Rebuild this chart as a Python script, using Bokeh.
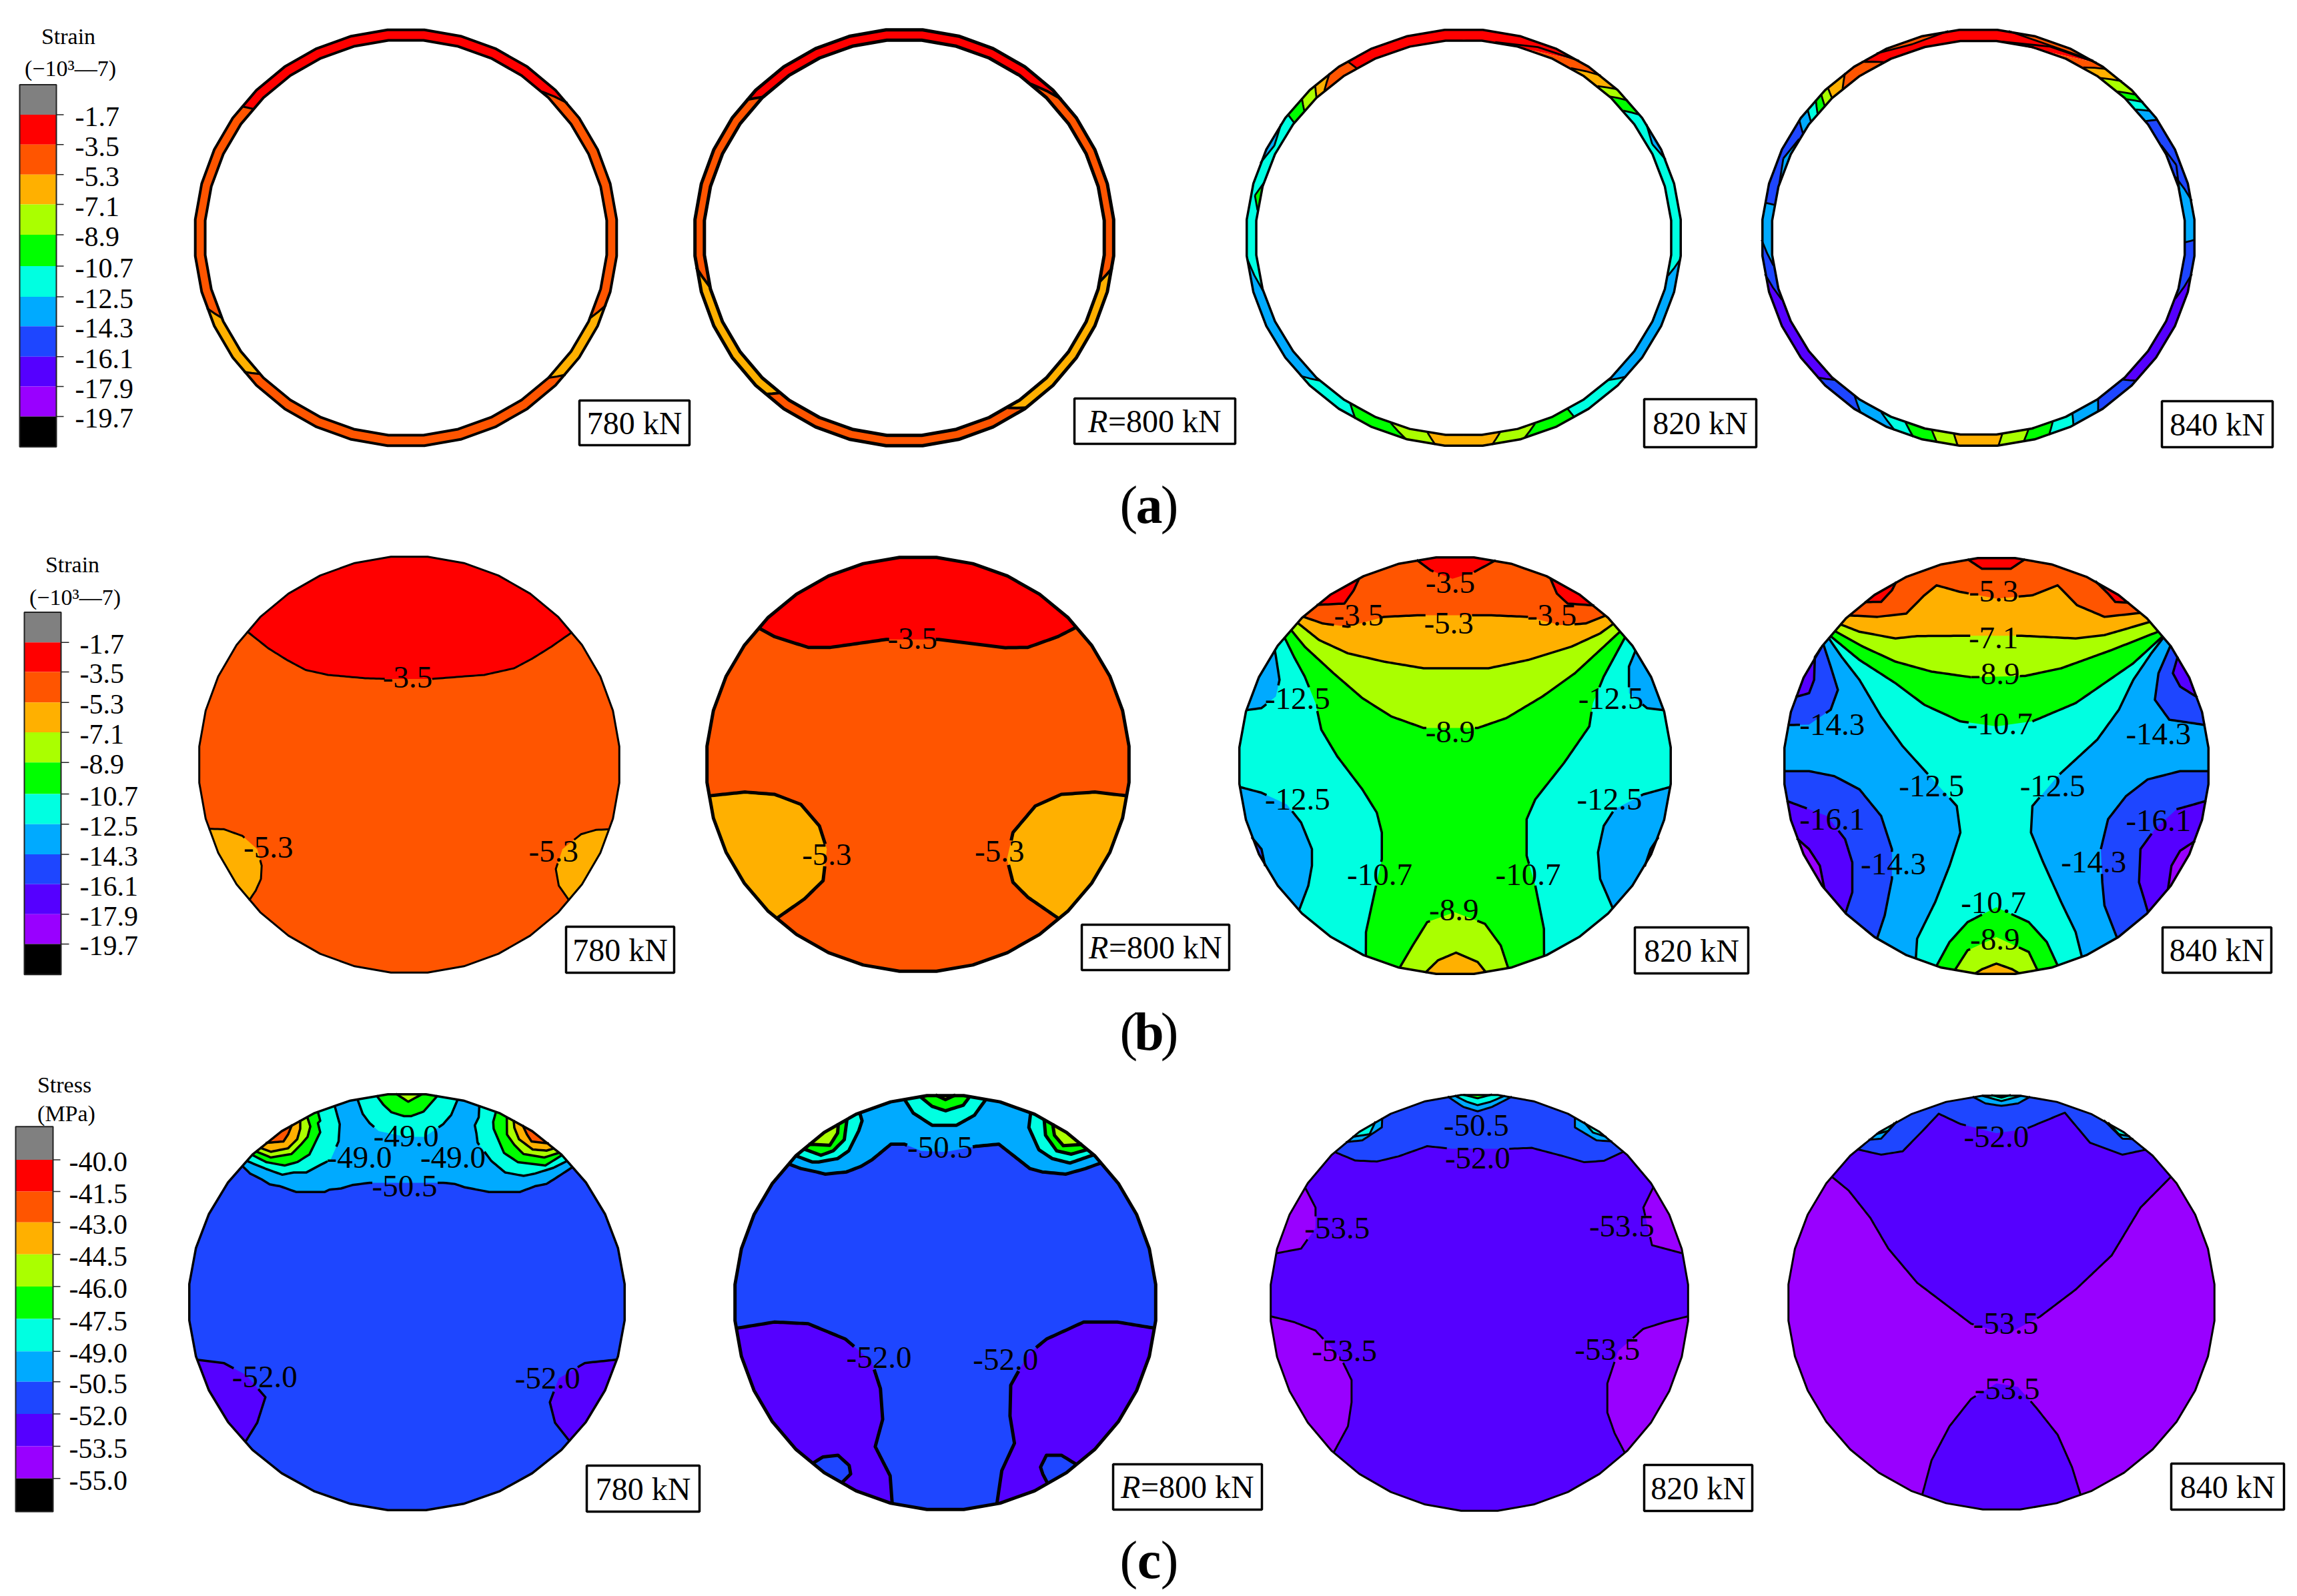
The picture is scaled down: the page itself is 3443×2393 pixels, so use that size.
import math
from bokeh.plotting import figure
from bokeh.models import Range1d
from bokeh.core.properties import value
from bokeh.embed import file_html
from bokeh.resources import INLINE

# ---------- shared colour scale ----------
scale_colors = ["#808080", "#ff0000", "#ff5500", "#ffb000", "#aaff00", "#00ff00",
                "#00ffe1", "#00aaff", "#1e46ff", "#5500ff", "#9900ff", "#000000"]
strain_ticks = ["-1.7", "-3.5", "-5.3", "-7.1", "-8.9", "-10.7", "-12.5", "-14.3", "-16.1", "-17.9", "-19.7"]
stress_ticks = ["-40.0", "-41.5", "-43.0", "-44.5", "-46.0", "-47.5", "-49.0", "-50.5", "-52.0", "-53.5", "-55.0"]

# ---------- (a) ring strain bands: colour index and the clockwise angle (degrees from top)
# at which each band ends, on the outer and on the inner edge of the ring ----------
ring780_colors = [1, 2, 3, 2, 3, 2]
ring780_outer = [49.8, 108.8, 131, 230, 250.3, 309]
ring780_inner = [42.4, 113.9, 135, 226.6, 246.2, 310.6]
ring800_colors = [1, 2, 3, 2, 3, 2]
ring800_outer = [48.4, 98.3, 144.5, 221.5, 261.8, 311.4]
ring800_inner = [39.1, 102.7, 149, 218.5, 255.7, 315.2]
ring820_colors = [1, 2, 3, 4, 5, 6, 7, 6, 5, 4, 3, 4, 5, 6, 7, 6, 5, 4, 3, 2]
ring820_outer = [32, 39, 44.6, 48.9, 53.9, 95.9, 131.7, 149.4, 163.9, 172.5, 187.5, 195.4, 209.8, 228.6, 264.3, 306.2, 312, 317, 322, 327.7]
ring820_inner = [8.7, 31, 40, 44.4, 50, 101, 136, 150, 160, 170, 190, 200.5, 213, 223.8, 254.4, 305.5, 310, 315, 318, 329]
ring840_colors = [1, 2, 3, 4, 5, 6, 7, 8, 7, 8, 9, 8, 7, 6, 5, 4, 3, 4, 5, 6, 7, 8, 9, 8, 7, 8, 7, 6, 5, 4, 3, 2]
ring840_outer = [33, 36, 41.4, 46.8, 49.5, 52.6, 55.6, 79.8, 90.5, 100, 133.2, 146.5, 154, 161, 168, 174.7, 185.5, 191, 197.5, 202.7, 212.9, 228, 260, 269.4, 279.7, 304.3, 308, 311.4, 313.5, 316, 322, 327.4]
ring840_inner = [6.5, 30.4, 36, 42.2, 45.4, 49.5, 53.8, 72, 91.3, 108, 135.9, 144.7, 153, 159, 166, 173.4, 186.8, 193, 200.6, 208, 216.7, 224, 251.7, 261.9, 279.6, 302, 306, 309, 312, 315, 319, 332.8]
# thin wedges: colour, from angle, to angle, edge (1 outer, 0 inner), tip
ring820_wedges = [(7, 57, 68, 1, 0.45), (7, 291, 303, 1, 0.45), (5, 278, 286, 0, 0.55)]
ring840_wedges = [(2, 332, 352, 1, 0.55), (2, 8, 32, 1, 0.6), (8, 62, 76, 0, 0.5), (7, 286, 300, 0, 0.5)]

# ---------- contour regions in each crop's own pixel units.
# Each region: colour index, boundary contours (region on the left of travel; consecutive
# contours are joined along the disc's edge) ----------
b780_base = 2
b780_regions = [
    (1, [[(332, 295), (360, 345), (385, 380), (410, 410), (440, 425), (490, 435), (520, 437), (580, 437), (620, 430), (650, 425), (690, 405), (715, 375), (740, 340), (767, 298)]]),
    (3, [[(334, 1105), (343, 1075), (350, 1040), (351, 1000), (345, 950), (325, 910), (300, 890), (278, 890)]]),
    (3, [[(818, 890), (800, 892), (780, 905), (755, 950), (746, 1010), (750, 1060), (764, 1105)]]),
]
b780_labels = [("-3.5", 547, 433), ("-5.3", 360, 945), ("-5.3", 743, 957)]

b800_base = 2
b800_regions = [
    (1, [[(1018, 283), (1040, 310), (1085, 342), (1115, 342), (1190, 318), (1260, 318), (1350, 343), (1380, 342), (1420, 310), (1445, 282)]]),
    (3, [[(1042, 1160), (1080, 1100), (1105, 1045), (1110, 950), (1100, 880), (1075, 815), (1040, 785), (1000, 778), (950, 790)]]),
    (3, [[(1515, 790), (1470, 778), (1425, 785), (1390, 820), (1360, 900), (1352, 980), (1360, 1050), (1380, 1095), (1422, 1160)]]),
]
b800_labels = [("-3.5", 1225, 315), ("-5.3", 1110, 967), ("-5.3", 1342, 957)]

b820_base = 6
b820_regions = [
    (7, [[(107, 530), (130, 525), (150, 490), (155, 440), (150, 370), (145, 345)]]),
    (7, [[(650, 350), (640, 400), (640, 480), (665, 525), (690, 530)]]),
    (7, [[(182, 1135), (195, 1060), (200, 1000), (200, 950), (185, 870), (165, 815), (130, 780), (98, 763)]]),
    (7, [[(699, 763), (660, 785), (620, 830), (605, 880), (597, 960), (600, 1040), (610, 1090), (618, 1130)]]),
    (8, [[(136, 1000), (130, 950), (115, 915)]]),
    (8, [[(682, 915), (670, 950), (660, 1000)]]),
    (5, [[(158, 305), (175, 370), (190, 430), (205, 510), (213, 590), (235, 670), (270, 770), (290, 840), (297, 900), (297, 980), (285, 1100), (275, 1200), (275, 1272)],
         [(522, 1272), (522, 1190), (510, 1060), (498, 970), (498, 860), (510, 800), (550, 690), (585, 580), (590, 510), (605, 430), (625, 350), (638, 305)]]),
    (4, [[(166, 280), (190, 340), (230, 420), (270, 495), (310, 550), (355, 585), (430, 585), (470, 555), (520, 490), (565, 420), (600, 350), (630, 290)]]),
    (3, [[(180, 268), (210, 320), (250, 360), (300, 385), (355, 405), (445, 405), (500, 380), (560, 340), (600, 300), (620, 268)]]),
    (2, [[(188, 250), (215, 270), (250, 280), (300, 250), (350, 245), (445, 245), (500, 250), (545, 275), (580, 270), (607, 248)]]),
    (1, [[(345, 75), (365, 110), (395, 135), (425, 115), (455, 80)]]),
    (1, [[(207, 215), (245, 210), (258, 170), (265, 130)]]),
    (1, [[(530, 135), (540, 180), (555, 210), (592, 215)]]),
    (4, [[(472, 1305), (462, 1240), (440, 1175), (398, 1140), (360, 1170), (340, 1240), (322, 1305)]]),
    (3, [[(442, 1325), (430, 1290), (400, 1262), (375, 1285), (357, 1325)]]),
]
b820_labels = [("-3.5", 392, 147), ("-3.5", 265, 245), ("-5.3", 390, 270), ("-3.5", 533, 245),
               ("-12.5", 180, 497), ("-12.5", 615, 497), ("-8.9", 392, 597), ("-12.5", 180, 800),
               ("-12.5", 613, 800), ("-10.7", 294, 1027), ("-10.7", 500, 1027), ("-8.9", 397, 1133)]

b840_base = 6
b840_regions = [
    (7, [[(1035, 1298), (1040, 1220), (1065, 1110), (1085, 1000), (1100, 900), (1095, 820), (1045, 700), (1020, 640), (990, 550), (960, 440), (935, 370), (915, 310)]]),
    (7, [[(1383, 310), (1365, 360), (1340, 440), (1320, 530), (1290, 620), (1255, 690), (1235, 730), (1200, 820), (1198, 900), (1215, 990), (1240, 1110), (1260, 1200), (1268, 1272)]]),
    (8, [[(858, 575), (890, 575), (920, 530), (930, 470), (920, 400), (908, 330)]]),
    (8, [[(1393, 335), (1375, 420), (1370, 500), (1390, 560), (1442, 575)]]),
    (8, [[(985, 1218), (995, 1150), (1005, 1040), (1005, 950), (990, 850), (960, 770), (925, 730), (890, 715), (855, 715)]]),
    (8, [[(1446, 715), (1405, 715), (1360, 740), (1330, 790), (1305, 860), (1295, 950), (1297, 1050), (1300, 1120), (1315, 1210)]]),
    (9, [[(872, 492), (890, 480), (897, 440), (897, 370), (905, 340)]]),
    (9, [[(1403, 368), (1395, 420), (1405, 460), (1430, 492)]]),
    (9, [[(942, 1140), (950, 1080), (950, 990), (940, 920), (915, 850), (858, 805)]]),
    (9, [[(1442, 805), (1400, 830), (1370, 890), (1350, 950), (1348, 1050), (1355, 1100), (1360, 1140)]]),
    (10, [[(908, 1075), (905, 1000), (890, 950), (872, 918)]]),
    (10, [[(1425, 925), (1405, 955), (1393, 1000), (1390, 1075)]]),
    (5, [[(918, 305), (960, 380), (1010, 450), (1050, 515), (1100, 565), (1150, 580), (1200, 565), (1260, 510), (1300, 450), (1340, 390), (1383, 305)]]),
    (4, [[(924, 290), (965, 340), (1010, 385), (1060, 415), (1115, 432), (1190, 428), (1240, 405), (1310, 350), (1375, 295)]]),
    (3, [[(932, 270), (960, 295), (1010, 315), (1040, 308), (1110, 307), (1185, 307), (1260, 315), (1300, 305), (1340, 280), (1367, 258)]]),
    (2, [[(943, 240), (985, 250), (1025, 240), (1050, 185), (1067, 155), (1100, 175), (1150, 195), (1200, 185), (1235, 155), (1262, 215), (1300, 250), (1350, 240)]]),
    (1, [[(1110, 78), (1130, 105), (1170, 105), (1190, 75)]]),
    (1, [[(967, 205), (990, 205), (1005, 170), (1010, 140)]]),
    (1, [[(1288, 140), (1305, 180), (1315, 205), (1335, 205)]]),
    (5, [[(1235, 1300), (1220, 1230), (1195, 1170), (1150, 1125), (1110, 1170), (1085, 1230), (1067, 1300)]]),
    (4, [[(1207, 1312), (1195, 1260), (1150, 1215), (1110, 1255), (1092, 1315)]]),
    (3, [[(1182, 1325), (1172, 1312), (1150, 1295), (1130, 1312), (1120, 1325)]]),
]
b840_labels = [("-5.3", 1146, 172), ("-7.1", 1146, 313), ("-8.9", 1148, 422), ("-10.7", 1155, 572),
               ("-14.3", 922, 575), ("-14.3", 1375, 602), ("-12.5", 1060, 760), ("-12.5", 1228, 760),
               ("-16.1", 922, 860), ("-16.1", 1375, 865), ("-14.3", 1007, 995), ("-14.3", 1285, 988),
               ("-10.7", 1146, 1112), ("-8.9", 1148, 1222)]

c780_base = 8
c780_lower = [
    (9, [[(330, 1115), (345, 1060), (356, 985), (330, 920), (300, 885), (263, 876)]]),
    (9, [[(830, 876), (785, 885), (750, 930), (738, 1000), (745, 1060), (765, 1115)]]),
]
c780_upper = [
    (7, [[(70, 345), (100, 375), (150, 400), (185, 422), (230, 430), (300, 455), (425, 455), (445, 445), (495, 440), (545, 425), (620, 415), (940, 415), (990, 420), (1035, 435), (1140, 455), (1275, 455), (1340, 430), (1390, 420), (1430, 395), (1500, 350)]]),
    (6, [[(90, 325), (170, 355), (240, 380), (290, 370), (345, 370), (410, 335), (450, 315), (485, 235), (490, 160), (470, 85)]]),
    (6, [[(1095, 85), (1095, 130), (1078, 165), (1085, 200), (1090, 240), (1150, 320), (1210, 370), (1290, 385), (1340, 375), (1420, 350), (1475, 325)]]),
    (6, [[(568, 55), (590, 115), (620, 155), (660, 190), (780, 215), (860, 215), (940, 160), (975, 120), (1003, 55)]]),
    (5, [[(110, 295), (170, 325), (250, 340), (305, 325), (358, 292), (405, 195), (395, 155), (405, 145), (397, 110)]]),
    (5, [[(1168, 110), (1158, 150), (1160, 180), (1205, 285), (1265, 325), (1385, 340), (1455, 297)]]),
    (5, [[(650, 35), (680, 75), (715, 108), (770, 125), (800, 125), (855, 105), (915, 45)]]),
    (4, [[(130, 283), (190, 305), (280, 290), (320, 250), (350, 215), (362, 170), (347, 125)]]),
    (4, [[(1218, 125), (1218, 205), (1250, 250), (1290, 290), (1380, 305), (1440, 290)]]),
    (4, [[(735, 32), (788, 62), (850, 32)]]),
    (3, [[(150, 270), (190, 280), (265, 265), (305, 225), (318, 180), (320, 145)]]),
    (3, [[(1245, 145), (1250, 175), (1270, 225), (1330, 270), (1390, 275), (1425, 265)]]),
    (2, [[(175, 250), (245, 235), (265, 205), (285, 165)]]),
    (2, [[(1285, 165), (1305, 205), (1325, 235), (1395, 250)]]),
]
c780_labels = [("-49.0", 545, 220), ("-49.0", 482, 283), ("-49.0", 608, 283), ("-50.5", 543, 368),
               ("-52.0", 355, 925), ("-52.0", 735, 930)]

c800_base = 8
c800_lower = [
    (9, [[(1198, 1295), (1195, 1215), (1175, 1130), (1185, 1050), (1182, 960), (1170, 880), (1135, 815), (1085, 770), (1040, 765), (990, 783)]]),
    (9, [[(1550, 783), (1500, 765), (1455, 765), (1405, 815), (1380, 860), (1357, 950), (1356, 1040), (1362, 1120), (1345, 1200), (1338, 1295)]]),
    (8, [[(1130, 1235), (1142, 1210), (1140, 1185), (1125, 1155), (1105, 1160), (1090, 1180)]]),
    (8, [[(1445, 1180), (1425, 1155), (1405, 1155), (1397, 1190), (1400, 1210), (1405, 1232)]]),
]
c800_upper = [
    (7, [[(5, 345), (60, 365), (130, 380), (170, 390), (265, 380), (330, 355), (380, 325), (465, 255), (525, 255), (600, 285), (710, 290), (845, 265), (950, 255), (1090, 365), (1145, 380), (1250, 390), (1340, 365), (1410, 340)]]),
    (6, [[(35, 305), (110, 335), (140, 335), (225, 320), (275, 285), (320, 195), (335, 150), (325, 115)]]),
    (6, [[(1090, 120), (1085, 180), (1130, 280), (1190, 320), (1270, 340), (1375, 305)]]),
    (6, [[(525, 55), (565, 115), (650, 170), (760, 170), (840, 125), (893, 55)]]),
    (5, [[(75, 280), (150, 305), (205, 285), (255, 235), (270, 145)]]),
    (5, [[(1150, 148), (1160, 215), (1210, 285), (1275, 300), (1345, 285)]]),
    (5, [[(595, 42), (650, 85), (710, 105), (790, 80), (820, 42)]]),
    (4, [[(100, 262), (190, 260), (225, 205), (230, 165)]]),
    (4, [[(1190, 165), (1200, 215), (1240, 262), (1320, 262)]]),
    (4, [[(665, 38), (710, 55), (755, 38)]]),
]
c800_labels = [("-50.5", 1262, 253), ("-52.0", 1180, 870), ("-52.0", 1350, 875)]

c820_base = 9
c820_regions = [
    (10, [[(148, 563), (185, 550), (205, 490), (205, 430), (190, 370)]]),
    (10, [[(672, 372), (660, 430), (672, 540), (717, 563)]]),
    (10, [[(229, 1150), (250, 1070), (255, 1000), (255, 935), (240, 870), (205, 790), (175, 765), (142, 748)]]),
    (10, [[(723, 748), (690, 765), (660, 785), (625, 850), (610, 945), (610, 1030), (620, 1090), (635, 1150)]]),
    (8, [[(232, 268), (260, 292), (290, 295), (320, 280), (360, 250), (395, 258), (470, 258), (505, 255), (550, 280), (578, 297), (605, 293), (632, 268)]]),
    (7, [[(245, 233), (270, 233), (297, 195), (297, 165)]]),
    (7, [[(565, 165), (565, 195), (595, 233), (618, 233)]]),
    (7, [[(388, 100), (410, 135), (430, 148), (450, 135), (478, 100)]]),
    (6, [[(257, 225), (280, 215), (290, 185)]]),
    (6, [[(577, 180), (590, 210), (608, 225)]]),
    (6, [[(398, 100), (415, 120), (430, 130), (448, 120), (468, 100)]]),
    (5, [[(410, 98), (430, 110), (450, 98)]]),
]
c820_labels = [("-50.5", 428, 190), ("-52.0", 430, 285), ("-53.5", 235, 490), ("-53.5", 630, 485),
               ("-53.5", 245, 850), ("-53.5", 610, 845)]

c840_base = 10
c840_regions = [
    (9, [[(920, 337), (945, 380), (975, 460), (1000, 550), (1040, 650), (1090, 730), (1115, 770), (1165, 800), (1210, 750), (1260, 670), (1310, 570), (1350, 430), (1392, 340)]]),
    (9, [[(1267, 1272), (1255, 1190), (1235, 1095), (1205, 1015), (1180, 955), (1150, 945), (1115, 990), (1085, 1070), (1060, 1170), (1047, 1272)]]),
    (8, [[(958, 262), (990, 275), (1020, 265), (1050, 200), (1070, 155), (1100, 185), (1150, 212), (1190, 200), (1245, 152), (1280, 240), (1325, 275), (1358, 260)]]),
    (7, [[(972, 230), (990, 228), (1013, 180)]]),
    (7, [[(1298, 178), (1325, 228), (1340, 230)]]),
    (7, [[(1117, 105), (1135, 125), (1157, 132), (1180, 125), (1197, 105)]]),
    (6, [[(985, 220), (1000, 205), (1010, 185)]]),
    (6, [[(1303, 188), (1320, 215), (1335, 222)]]),
    (6, [[(1130, 102), (1157, 118), (1185, 102)]]),
    (5, [[(1143, 102), (1157, 108), (1170, 102)]]),
]
c840_labels = [("-52.0", 1150, 222), ("-53.5", 1163, 770), ("-53.5", 1165, 960)]

panel_titles = ["780 kN", "=800 kN", "820 kN", "840 kN"]
subfigure_labels = ["(a)", "(b)", "(c)"]

# ---------- layout (reference pixels) ----------
W, H = 3443, 2393
VIEW_B_L = (0, 800, 0.896, 2.01)
VIEW_B_R = (1750, 800, 0.926, 2.01)
VIEW_C_L = (0, 1590, 0.896, 1.953)
VIEW_C_R = (1750, 1590, 0.926, 1.953)
VIEW_C1 = (340, 1630, 2.904, 2.904)
VIEW_C2 = (1180, 1630, 3.0, 3.0)

TNR = value("Liberation Serif")
p = figure(width=W, height=H, x_range=Range1d(0, W), y_range=Range1d(H, 0),
           output_backend="svg", toolbar_location=None, min_border=0,
           x_axis_type=None, y_axis_type=None, outline_line_color=None)
p.grid.visible = False


def to_px(view, pt):
    return view[0] + pt[0] / view[2], view[1] + pt[1] / view[3]


class Disc:
    def __init__(self, x0, x1, y0, y1):
        self.cx, self.cy = (x0 + x1) / 2, (y0 + y1) / 2
        self.rx, self.ry = (x1 - x0) / 2, (y1 - y0) / 2

    def at(self, deg):
        a = math.radians(deg)
        return self.cx + self.rx * math.cos(a), self.cy - self.ry * math.sin(a)

    def outline(self):
        return [self.at(5 + 10 * i) for i in range(36)]

    def angle(self, pt):
        return math.degrees(math.atan2(-(pt[1] - self.cy) / self.ry, (pt[0] - self.cx) / self.rx)) % 360

    def snap(self, pt, force):
        u, v = (pt[0] - self.cx) / self.rx, (pt[1] - self.cy) / self.ry
        r = math.hypot(u, v)
        if force or r > 1:
            u, v = u / r, v / r
        return self.cx + self.rx * u, self.cy + self.ry * v

    def arc(self, a, b):
        span = (b - a) % 360
        out = []
        for i in range(36):
            t = 5 + 10 * i
            d = (t - a) % 360
            if 0 < d < span:
                out.append((d, self.at(t)))
        return [q for _, q in sorted(out)]


def gap_split(line, boxes):
    runs, cur = [], []
    for (x0, y0), (x1, y1) in zip(line[:-1], line[1:]):
        n = max(1, int(math.hypot(x1 - x0, y1 - y0) / 4))
        for k in range(n + 1):
            x, y = x0 + (x1 - x0) * k / n, y0 + (y1 - y0) * k / n
            if any(a <= x <= b and c <= y <= d for a, b, c, d in boxes):
                if len(cur) > 1:
                    runs.append(cur)
                cur = []
            else:
                cur.append((x, y))
    if len(cur) > 1:
        runs.append(cur)
    return runs


LABEL_PX = 47


def draw_disc(disc, base, layered, labels, label_view, lw):
    boxes, lab_x, lab_y, lab_t = [], [], [], []
    for t, zx, zy in labels:
        x, y = to_px(label_view, (zx, zy))
        hw = (len(t) - 2) * LABEL_PX * 0.26 + LABEL_PX * 0.2
        boxes.append((x - hw, x + hw, y - LABEL_PX * 0.34, y + LABEL_PX * 0.34))
        lab_x.append(x); lab_y.append(y); lab_t.append(t)
    xs, ys, cols, lines = [[q[0] for q in disc.outline()]], [[q[1] for q in disc.outline()]], [scale_colors[base]], []
    for view, regions in layered:
        for color, contours in regions:
            poly, pieces = [], []
            for c in contours:
                pts = [to_px(view, q) for q in c]
                pts = [disc.snap(q, i in (0, len(pts) - 1)) for i, q in enumerate(pts)]
                pieces.append(pts)
            for i, pts in enumerate(pieces):
                poly += pts
                nxt = pieces[(i + 1) % len(pieces)][0]
                poly += disc.arc(disc.angle(pts[-1]), disc.angle(nxt))
                lines += gap_split(pts, boxes)
            xs.append([q[0] for q in poly]); ys.append([q[1] for q in poly]); cols.append(scale_colors[color])
    p.patches(xs, ys, fill_color=cols, line_color=None)
    if lines:
        p.multi_line([[q[0] for q in l] for l in lines], [[q[1] for q in l] for l in lines],
                     line_color="black", line_width=lw, line_join="round")
    o = disc.outline()
    p.patches([[q[0] for q in o]], [[q[1] for q in o]], fill_color=None, line_color="black", line_width=lw)
    p.text(lab_x, lab_y, lab_t, text_font=TNR, text_font_size=f"{LABEL_PX}px",
           text_align="center", text_baseline="middle", text_color="black")


def draw_ring(disc, inner_fx, inner_fy, colors, outer, inner, wedges, lw):
    inner_disc = Disc(disc.cx - disc.rx * inner_fx, disc.cx + disc.rx * inner_fx,
                      disc.cy - disc.ry * inner_fy, disc.cy + disc.ry * inner_fy)

    def pt(theta, frac):
        a = math.radians(90 - theta)
        fx = inner_fx + (1 - inner_fx) * frac
        fy = inner_fy + (1 - inner_fy) * frac
        return disc.cx + disc.rx * fx * math.cos(a), disc.cy - disc.ry * fy * math.sin(a)

    def sweep(t0, t1, frac):
        pts = [pt(t0, frac)]
        for i in range(-40, 80):
            t = 10 * i
            if t0 < t < t1:
                pts.append(pt(t, frac))
        pts.append(pt(t1, frac))
        return pts

    xs, ys, cols, lines = [], [], [], []
    po, pi = outer[-1] - 360, inner[-1] - 360
    for c, o, n in zip(colors, outer, inner):
        poly = sweep(po, o, 1) + sweep(pi, n, 0)[::-1]
        xs.append([q[0] for q in poly]); ys.append([q[1] for q in poly]); cols.append(scale_colors[c])
        lines.append([pt(n, 0), pt((n + o) / 2, 0.5), pt(o, 1)])
        po, pi = o, n
    for c, t0, t1, edge, tip in wedges:
        poly = sweep(t0, t1, edge) + [pt((t0 + t1) / 2, tip)]
        xs.append([q[0] for q in poly]); ys.append([q[1] for q in poly]); cols.append(scale_colors[c])
        lines.append(poly[-1:] + [poly[0]])
        lines.append(poly[-1:] + [poly[-2]])
    p.patches(xs, ys, fill_color=cols, line_color=None)
    p.multi_line([[q[0] for q in l] for l in lines], [[q[1] for q in l] for l in lines],
                 line_color="black", line_width=lw * 0.8)
    for d in (disc, inner_disc):
        o = d.outline()
        p.patches([[q[0] for q in o]], [[q[1] for q in o]], fill_color=None, line_color="black", line_width=lw)


def draw_legend(edges, ticks, x0, x1, tick_x1, label_x, titles):
    p.quad(left=[x0] * 12, right=[x1] * 12, top=edges[:-1], bottom=edges[1:], fill_color=scale_colors, line_color=None)
    p.quad(left=[x0], right=[x1], top=[edges[0]], bottom=[edges[-1]], fill_color=None, line_color="#222222", line_width=2)
    p.segment(x0=[x1] * 11, x1=[tick_x1] * 11, y0=edges[1:-1], y1=edges[1:-1], line_color="#222222", line_width=1.5)
    p.text([label_x] * 11, [e + 3 for e in edges[1:-1]], ticks, text_font=TNR, text_font_size="42px",
           text_baseline="middle", text_color="black")
    for t, x, y, size in titles:
        p.text([x], [y], [t], text_font=TNR, text_font_size=size, text_align="center",
               text_baseline="middle", text_color="black")


def draw_box(x0, x1, y0, y1, label, italic_r=False):
    p.quad(left=[x0], right=[x1], top=[y0], bottom=[y1], fill_color="white", line_color="black", line_width=3.5)
    cy = (y0 + y1) / 2
    if italic_r:
        start = (x0 + x1) / 2 - 100
        p.text([start], [cy], ["R"], text_font=TNR, text_font_style="italic", text_font_size="48px",
               text_baseline="middle", text_color="black")
        p.text([start + 30], [cy], [label], text_font=TNR, text_font_size="48px",
               text_baseline="middle", text_color="black")
    else:
        p.text([(x0 + x1) / 2], [cy], [label], text_font=TNR, text_font_size="48px",
               text_align="center", text_baseline="middle", text_color="black")


# ---------- legends ----------
view_a = (0, 0, 1.4255, 1.96)
legend_a_edges = [to_px(view_a, (0, e))[1] for e in (248, 336, 424, 512, 600, 689, 781, 871, 958, 1047, 1135, 1223, 1312)]
legend_b_edges = [to_px(VIEW_B_L, (0, e))[1] for e in (236, 327, 416, 508, 598, 689, 784, 875, 966, 1056, 1146, 1236, 1328)]
legend_c_edges = [to_px(VIEW_C_L, (0, e))[1] for e in (193, 290, 383, 473, 567, 661, 756, 851, 940, 1034, 1129, 1223, 1320)]
draw_legend(legend_a_edges, strain_ticks, 29, 84, 95, 112, [("Strain", 102, 54, "34px"), ("(\u221210\u00b3\u20147)", 105, 102, "34px")])
draw_legend(legend_b_edges, strain_ticks, 36, 91, 103, 119, [("Strain", 108, 846, "34px"), ("(\u221210\u00b3\u20147)", 112, 895, "34px")])
draw_legend(legend_c_edges, stress_ticks, 23, 79, 90, 103, [("Stress", 96, 1626, "34px"), ("(MPa)", 99, 1669, "34px")])

# ---------- (a) rings ----------
draw_ring(Disc(291, 925, 43, 669), 0.953, 0.949, ring780_colors, ring780_outer, ring780_inner, [], 4)
draw_ring(Disc(1040, 1670, 43, 669), 0.955, 0.95, ring800_colors, ring800_outer, ring800_inner, [], 5)
draw_ring(Disc(1867, 2520, 43, 669), 0.956, 0.948, ring820_colors, ring820_outer, ring820_inner, ring820_wedges, 3.5)
draw_ring(Disc(2640, 3290, 43, 669), 0.955, 0.946, ring840_colors, ring840_outer, ring840_inner, ring840_wedges, 3.5)

# ---------- (b), (c) discs ----------
draw_disc(Disc(297, 929, 833, 1459), b780_base, [(VIEW_B_L, b780_regions)], b780_labels, VIEW_B_L, 3)
draw_disc(Disc(1058, 1693, 834, 1457), b800_base, [(VIEW_B_L, b800_regions)], b800_labels, VIEW_B_L, 5)
draw_disc(Disc(1856, 2505, 834, 1461), b820_base, [(VIEW_B_R, b820_regions)], b820_labels, VIEW_B_R, 3.5)
draw_disc(Disc(2673, 3311, 835, 1461), b840_base, [(VIEW_B_R, b840_regions)], b840_labels, VIEW_B_R, 3.5)
draw_disc(Disc(282, 937, 1639, 2265), c780_base, [(VIEW_C_L, c780_lower), (VIEW_C1, c780_upper)], c780_labels, VIEW_C_L, 3.5)
draw_disc(Disc(1100, 1733, 1641, 2264), c800_base, [(VIEW_C_L, c800_lower), (VIEW_C2, c800_upper)], c800_labels, VIEW_C_L, 5)
draw_disc(Disc(1903, 2531, 1640, 2266), c820_base, [(VIEW_C_R, c820_regions)], c820_labels, VIEW_C_R, 3)
draw_disc(Disc(2679, 3320, 1641, 2264), c840_base, [(VIEW_C_R, c840_regions)], c840_labels, VIEW_C_R, 3)

# ---------- load boxes ----------
draw_box(868, 1033, 600, 667, panel_titles[0])
draw_box(1610, 1851, 597, 665, panel_titles[1], True)
draw_box(2464, 2632, 598, 670, panel_titles[2])
draw_box(3240, 3406, 601, 670, panel_titles[3])
draw_box(848, 1010, 1389, 1458, panel_titles[0])
draw_box(1621, 1842, 1386, 1454, panel_titles[1], True)
draw_box(2450, 2620, 1390, 1459, panel_titles[2])
draw_box(3241, 3404, 1390, 1458, panel_titles[3])
draw_box(879, 1048, 2197, 2266, panel_titles[0])
draw_box(1668, 1891, 2195, 2263, panel_titles[1], True)
draw_box(2464, 2626, 2196, 2265, panel_titles[2])
draw_box(3254, 3423, 2194, 2263, panel_titles[3])

# ---------- sub-figure letters ----------
for t, y in zip(subfigure_labels, (756, 1546, 2338)):
    p.text([1678, 1766], [y, y], ["(", ")"], text_font=TNR, text_font_size="80px",
           text_align=["left", "right"], text_baseline="middle", text_color="black")
    p.text([1722], [y], [t[1]], text_font=TNR, text_font_style="bold", text_font_size="80px",
           text_align="center", text_baseline="middle", text_color="black")

open("out.html", "w").write(file_html(p, INLINE))
